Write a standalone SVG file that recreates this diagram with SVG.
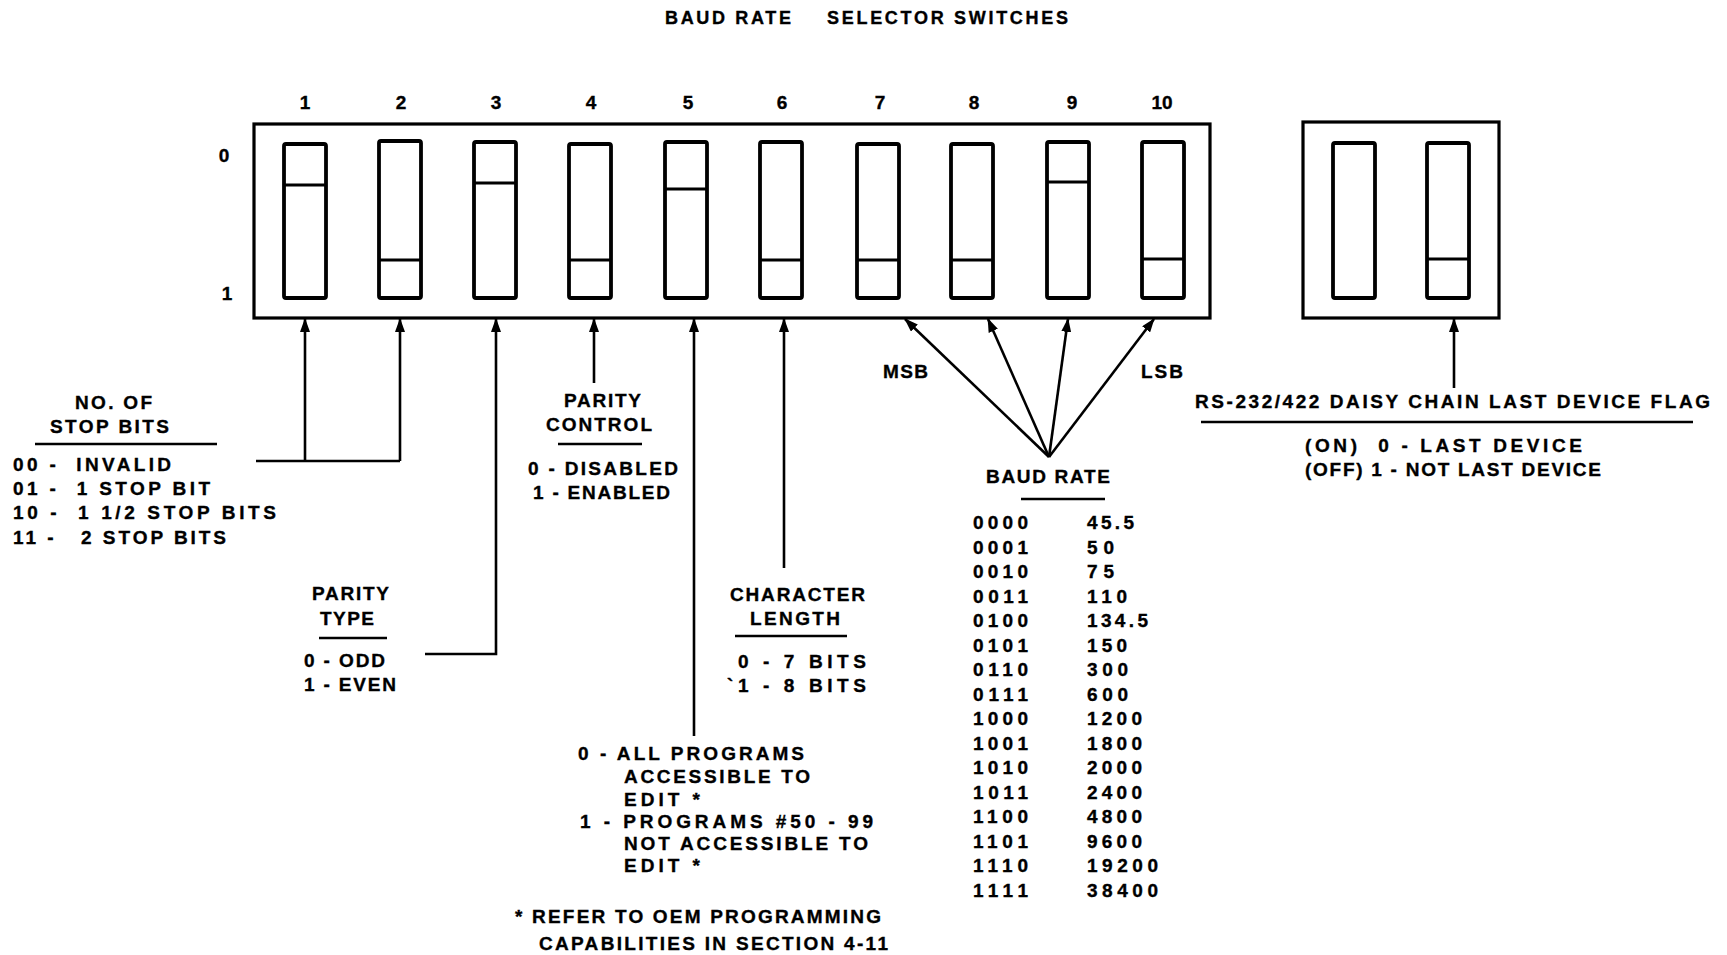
<svg xmlns="http://www.w3.org/2000/svg" width="1727" height="955" viewBox="0 0 1727 955">
<style>
text{font-family:"Liberation Sans",Arial,sans-serif;font-weight:bold;font-size:19px;fill:#000;stroke:#000;stroke-width:0.35;white-space:pre}
.t{font-size:18px}
.box{fill:none;stroke:#000;stroke-width:3.2}
.sw{fill:none;stroke:#000;stroke-width:3.8}
.div{stroke:#000;stroke-width:3}
.ln{fill:none;stroke:#000;stroke-width:2.6}
.ul{stroke:#000;stroke-width:2.4}
</style>
<defs>
<marker id="ah" viewBox="0 0 14 10" refX="13" refY="5" markerWidth="14" markerHeight="10" markerUnits="userSpaceOnUse" orient="auto">
<path d="M0,0 L14,5 L0,10 Z" fill="#000"/>
</marker>
</defs>
<rect width="1727" height="955" fill="#fff"/>

<g id="title">
<text class="t" x="665" y="24" textLength="126" lengthAdjust="spacing">BAUD RATE</text>
<text class="t" x="827" y="24" textLength="241" lengthAdjust="spacing">SELECTOR SWITCHES</text>
</g>

<g id="switch-numbers" text-anchor="middle">
<text x="305" y="109">1</text>
<text x="401" y="109">2</text>
<text x="496" y="109">3</text>
<text x="591" y="109">4</text>
<text x="688" y="109">5</text>
<text x="782" y="109">6</text>
<text x="880" y="109">7</text>
<text x="974" y="109">8</text>
<text x="1072" y="109">9</text>
<text x="1162" y="109">10</text>
</g>

<g id="position-labels" text-anchor="middle">
<text x="224" y="162">0</text>
<text x="227" y="300">1</text>
</g>

<g id="main-switch-block">
<rect class="box" x="254" y="124" width="956" height="194"/>
<g id="sw1"><rect class="sw" x="284" y="144" width="42" height="154" rx="2"/><line class="div" x1="284" y1="185" x2="326" y2="185"/></g>
<g id="sw2"><rect class="sw" x="379" y="141" width="42" height="157" rx="2"/><line class="div" x1="379" y1="260" x2="421" y2="260"/></g>
<g id="sw3"><rect class="sw" x="474" y="142" width="42" height="156" rx="2"/><line class="div" x1="474" y1="183" x2="516" y2="183"/></g>
<g id="sw4"><rect class="sw" x="569" y="144" width="42" height="154" rx="2"/><line class="div" x1="569" y1="260" x2="611" y2="260"/></g>
<g id="sw5"><rect class="sw" x="665" y="142" width="42" height="156" rx="2"/><line class="div" x1="665" y1="189" x2="707" y2="189"/></g>
<g id="sw6"><rect class="sw" x="760" y="142" width="42" height="156" rx="2"/><line class="div" x1="760" y1="260" x2="802" y2="260"/></g>
<g id="sw7"><rect class="sw" x="857" y="144" width="42" height="154" rx="2"/><line class="div" x1="857" y1="260" x2="899" y2="260"/></g>
<g id="sw8"><rect class="sw" x="951" y="144" width="42" height="154" rx="2"/><line class="div" x1="951" y1="260" x2="993" y2="260"/></g>
<g id="sw9"><rect class="sw" x="1047" y="142" width="42" height="156" rx="2"/><line class="div" x1="1047" y1="182" x2="1089" y2="182"/></g>
<g id="sw10"><rect class="sw" x="1142" y="142" width="42" height="156" rx="2"/><line class="div" x1="1142" y1="259" x2="1184" y2="259"/></g>
</g>

<g id="daisy-switch-block">
<rect class="box" x="1303" y="122" width="196" height="196"/>
<g id="swA"><rect class="sw" x="1333" y="143" width="42" height="155" rx="2"/></g>
<g id="swB"><rect class="sw" x="1427" y="143" width="42" height="155" rx="2"/><line class="div" x1="1427" y1="259" x2="1469" y2="259"/></g>
</g>

<g id="connectors">
<polyline class="ln" points="256,461 400,461"/>
<line class="ln" x1="305" y1="461" x2="305" y2="319" marker-end="url(#ah)"/>
<line class="ln" x1="400" y1="461" x2="400" y2="319" marker-end="url(#ah)"/>
<polyline class="ln" points="425,654 496,654 496,319" marker-end="url(#ah)"/>
<line class="ln" x1="594" y1="383" x2="594" y2="319" marker-end="url(#ah)"/>
<line class="ln" x1="694" y1="736" x2="694" y2="319" marker-end="url(#ah)"/>
<line class="ln" x1="784" y1="568" x2="784" y2="319" marker-end="url(#ah)"/>
<line class="ln" x1="1049" y1="457" x2="905" y2="319" marker-end="url(#ah)"/>
<line class="ln" x1="1049" y1="457" x2="988" y2="319" marker-end="url(#ah)"/>
<line class="ln" x1="1049" y1="457" x2="1068" y2="319" marker-end="url(#ah)"/>
<line class="ln" x1="1049" y1="457" x2="1154" y2="319" marker-end="url(#ah)"/>
<line class="ln" x1="1454" y1="388" x2="1454" y2="319" marker-end="url(#ah)"/>
</g>

<g id="stop-bits">
<text x="75" y="409" textLength="77" lengthAdjust="spacing">NO. OF</text>
<text x="50" y="433" textLength="119" lengthAdjust="spacing">STOP BITS</text>
<line class="ul" x1="35" y1="444" x2="217" y2="444"/>
<text x="13" y="471" textLength="158" lengthAdjust="spacing">00 -  INVALID</text>
<text x="13" y="495" textLength="197" lengthAdjust="spacing">01 -  1 STOP BIT</text>
<text x="13" y="519" textLength="263" lengthAdjust="spacing">10 -  1 1/2 STOP BITS</text>
<text x="13" y="544" textLength="213" lengthAdjust="spacing">11 -   2 STOP BITS</text>
</g>

<g id="parity-control">
<text x="564" y="407" textLength="77" lengthAdjust="spacing">PARITY</text>
<text x="546" y="431" textLength="106" lengthAdjust="spacing">CONTROL</text>
<line class="ul" x1="558" y1="444" x2="642" y2="444"/>
<text x="528" y="475" textLength="150" lengthAdjust="spacing">0 - DISABLED</text>
<text x="533" y="499" textLength="137" lengthAdjust="spacing">1 - ENABLED</text>
</g>

<g id="parity-type">
<text x="312" y="600" textLength="77" lengthAdjust="spacing">PARITY</text>
<text x="320" y="625" textLength="54" lengthAdjust="spacing">TYPE</text>
<line class="ul" x1="319" y1="638" x2="387" y2="638"/>
<text x="304" y="667" textLength="81" lengthAdjust="spacing">0 - ODD</text>
<text x="304" y="691" textLength="92" lengthAdjust="spacing">1 - EVEN</text>
</g>

<g id="character-length">
<text x="730" y="601" textLength="135" lengthAdjust="spacing">CHARACTER</text>
<text x="750" y="625" textLength="90" lengthAdjust="spacing">LENGTH</text>
<line class="ul" x1="735" y1="636" x2="847" y2="636"/>
<text x="738" y="668" textLength="128" lengthAdjust="spacing">0 - 7 BITS</text>
<text x="727" y="692" textLength="139" lengthAdjust="spacing">`1 - 8 BITS</text>
</g>

<g id="program-access">
<text x="578" y="760" textLength="226" lengthAdjust="spacing">0 - ALL PROGRAMS</text>
<text x="624" y="783" textLength="186" lengthAdjust="spacing">ACCESSIBLE TO</text>
<text x="624" y="806" textLength="76" lengthAdjust="spacing">EDIT *</text>
<text x="580" y="828" textLength="293" lengthAdjust="spacing">1 - PROGRAMS #50 - 99</text>
<text x="624" y="850" textLength="244" lengthAdjust="spacing">NOT ACCESSIBLE TO</text>
<text x="624" y="872" textLength="76" lengthAdjust="spacing">EDIT *</text>
</g>

<g id="footnote">
<text x="515" y="923" textLength="366" lengthAdjust="spacing">* REFER TO OEM PROGRAMMING</text>
<text x="539" y="950" textLength="349" lengthAdjust="spacing">CAPABILITIES IN SECTION 4-11</text>
</g>

<g id="baud-rate">
<text x="883" y="378" textLength="45" lengthAdjust="spacing">MSB</text>
<text x="1141" y="378" textLength="42" lengthAdjust="spacing">LSB</text>
<text x="986" y="483" textLength="124" lengthAdjust="spacing">BAUD RATE</text>
<line class="ul" x1="1021" y1="499" x2="1105" y2="499"/>
<g id="baud-table">
<text x="973" y="529" textLength="55" lengthAdjust="spacing">0000</text><text x="1087" y="529" textLength="47" lengthAdjust="spacing">45.5</text>
<text x="973" y="554" textLength="55" lengthAdjust="spacing">0001</text><text x="1087" y="554" textLength="27" lengthAdjust="spacing">50</text>
<text x="973" y="578" textLength="55" lengthAdjust="spacing">0010</text><text x="1087" y="578" textLength="27" lengthAdjust="spacing">75</text>
<text x="973" y="603" textLength="55" lengthAdjust="spacing">0011</text><text x="1087" y="603" textLength="40" lengthAdjust="spacing">110</text>
<text x="973" y="627" textLength="55" lengthAdjust="spacing">0100</text><text x="1087" y="627" textLength="61" lengthAdjust="spacing">134.5</text>
<text x="973" y="652" textLength="55" lengthAdjust="spacing">0101</text><text x="1087" y="652" textLength="40" lengthAdjust="spacing">150</text>
<text x="973" y="676" textLength="55" lengthAdjust="spacing">0110</text><text x="1087" y="676" textLength="41" lengthAdjust="spacing">300</text>
<text x="973" y="701" textLength="55" lengthAdjust="spacing">0111</text><text x="1087" y="701" textLength="41" lengthAdjust="spacing">600</text>
<text x="973" y="725" textLength="55" lengthAdjust="spacing">1000</text><text x="1087" y="725" textLength="55" lengthAdjust="spacing">1200</text>
<text x="973" y="750" textLength="55" lengthAdjust="spacing">1001</text><text x="1087" y="750" textLength="55" lengthAdjust="spacing">1800</text>
<text x="973" y="774" textLength="55" lengthAdjust="spacing">1010</text><text x="1087" y="774" textLength="55" lengthAdjust="spacing">2000</text>
<text x="973" y="799" textLength="55" lengthAdjust="spacing">1011</text><text x="1087" y="799" textLength="55" lengthAdjust="spacing">2400</text>
<text x="973" y="823" textLength="55" lengthAdjust="spacing">1100</text><text x="1087" y="823" textLength="55" lengthAdjust="spacing">4800</text>
<text x="973" y="848" textLength="55" lengthAdjust="spacing">1101</text><text x="1087" y="848" textLength="55" lengthAdjust="spacing">9600</text>
<text x="973" y="872" textLength="55" lengthAdjust="spacing">1110</text><text x="1087" y="872" textLength="71" lengthAdjust="spacing">19200</text>
<text x="973" y="897" textLength="55" lengthAdjust="spacing">1111</text><text x="1087" y="897" textLength="71" lengthAdjust="spacing">38400</text>
</g>
</g>

<g id="daisy-chain">
<text x="1195" y="408" textLength="515" lengthAdjust="spacing">RS-232/422 DAISY CHAIN LAST DEVICE FLAG</text>
<line class="ul" x1="1201" y1="422" x2="1693" y2="422"/>
<text x="1305" y="452" textLength="277" lengthAdjust="spacing">(ON)  0 - LAST DEVICE</text>
<text x="1305" y="476" textLength="296" lengthAdjust="spacing">(OFF) 1 - NOT LAST DEVICE</text>
</g>
</svg>
